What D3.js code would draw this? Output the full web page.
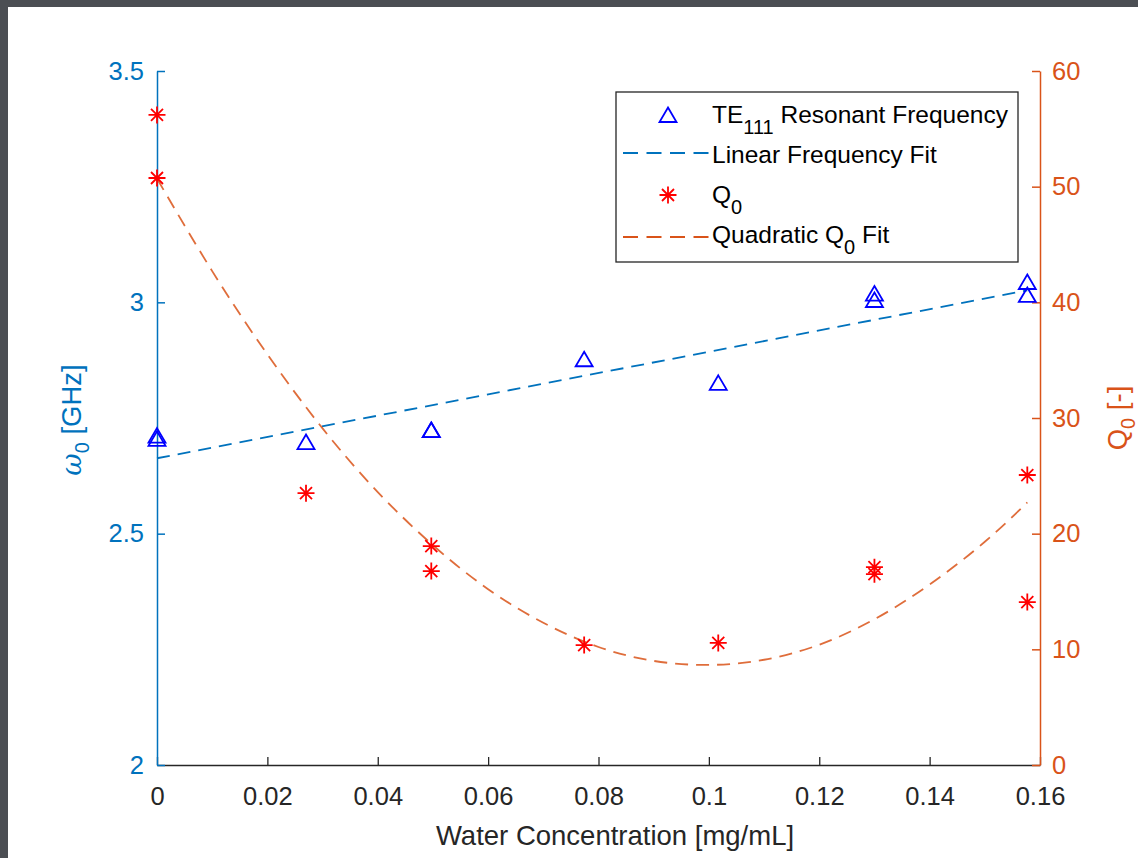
<!DOCTYPE html>
<html>
<head>
<meta charset="utf-8">
<script src="https://cdn.jsdelivr.net/npm/d3@7"></script>
<style>
  body { margin: 0; background: #4b4e53; }
  svg { display: block; font-family: "Liberation Sans", Arial, Helvetica, sans-serif; }
</style>
</head>
<body>
<div id="chart"></div>
<script>
// Data
const concentration = [0, 0, 0.027, 0.0497, 0.0497, 0.0774, 0.1017, 0.13, 0.13, 0.1577, 0.1577];
const frequency = [2.712, 2.705, 2.698, 2.724, 2.724, 2.877, 2.826, 3.019, 3.005, 3.044, 3.016];
const qFactor = [56.2, 50.75, 23.5, 18.93, 16.77, 10.37, 10.55, 17.1, 16.5, 25.07, 14.09];

const linearFitX = [0, 0.1577];
const linearFitY = [2.663, 3.026];

const quadFitX = [0, 0.01, 0.02, 0.03, 0.04, 0.05, 0.06, 0.07, 0.08, 0.09, 0.1, 0.11, 0.12, 0.13, 0.14, 0.15, 0.1577];
const quadFitY = [50.7, 42.7, 35.5, 29.1, 23.6, 19.0, 15.2, 12.3, 10.2, 9.0, 8.65, 9.1, 10.4, 12.6, 15.6, 19.3, 22.7];

const xTicks = [0, 0.02, 0.04, 0.06, 0.08, 0.1, 0.12, 0.14, 0.16];
const leftTicks = [2, 2.5, 3, 3.5];
const rightTicks = [0, 10, 20, 30, 40, 50, 60];

const legendLabels = [
  [{t: "TE"}, {t: "111", sub: true}, {t: " Resonant Frequency"}],
  [{t: "Linear Frequency Fit"}],
  [{t: "Q"}, {t: "0", sub: true}],
  [{t: "Quadratic Q"}, {t: "0", sub: true}, {t: " Fit"}]
];

const margin = {top: 71, right: 98, bottom: 93, left: 157};
const width = 1138;
const height = 858;
const innerWidth = width - margin.left - margin.right;
const innerHeight = height - margin.top - margin.bottom;

const blue = "#0072bd";
const orange = "#d95319";
const axisGray = "#262626";

const svg = d3.select("#chart")
  .append("svg")
    .attr("width", width)
    .attr("height", height);

// screenshot frame
svg.append("rect")
  .attr("width", width).attr("height", height)
  .attr("fill", "#4b4e53");
svg.append("rect")
  .attr("x", 8).attr("y", 7)
  .attr("width", width - 8).attr("height", height - 7)
  .attr("fill", "#ffffff");

const inner = svg.append("g")
  .attr("transform", `translate(${margin.left}, ${margin.top})`);

// Scales
const xScale = d3.scaleLinear().domain([0, 0.16]).range([0, innerWidth]);
const yLeft = d3.scaleLinear().domain([2, 3.5]).range([innerHeight, 0]);
const yRight = d3.scaleLinear().domain([0, 60]).range([innerHeight, 0]);

// Axes
const bottomAxis = d3.axisBottom(xScale)
  .tickValues(xTicks)
  .tickFormat(d3.format("~g"))
  .tickSizeInner(-8)
  .tickSizeOuter(0)
  .tickPadding(22);
const gx = inner.append("g")
  .attr("transform", `translate(0, ${innerHeight})`)
  .call(bottomAxis);
gx.selectAll("path, line").attr("stroke", axisGray).attr("stroke-width", 1.3);
gx.selectAll("text").attr("fill", axisGray).attr("font-size", 25.5);

const leftAxis = d3.axisLeft(yLeft)
  .tickValues(leftTicks)
  .tickFormat(d3.format("~g"))
  .tickSizeInner(-8)
  .tickSizeOuter(0)
  .tickPadding(13);
const gl = inner.append("g").call(leftAxis);
gl.selectAll("path, line").attr("stroke", blue).attr("stroke-width", 1.5);
gl.selectAll("text").attr("fill", blue).attr("font-size", 25.5);

const rightAxis = d3.axisRight(yRight)
  .tickValues(rightTicks)
  .tickSizeInner(-8)
  .tickSizeOuter(0)
  .tickPadding(12);
const gr = inner.append("g")
  .attr("transform", `translate(${innerWidth}, 0)`)
  .call(rightAxis);
gr.selectAll("path, line").attr("stroke", orange).attr("stroke-width", 1.5);
gr.selectAll("text").attr("fill", orange).attr("font-size", 25.5);

// Axis labels
svg.append("text")
  .attr("x", 615)
  .attr("y", 845)
  .attr("text-anchor", "middle")
  .attr("font-size", 27.5)
  .attr("fill", axisGray)
  .text("Water Concentration [mg/mL]");

const leftLabel = svg.append("text")
  .attr("transform", `translate(81, ${margin.top + innerHeight / 2 + 2}) rotate(-90)`)
  .attr("text-anchor", "middle")
  .attr("font-size", 27.5)
  .attr("fill", blue);
leftLabel.append("tspan").attr("font-family", "'DejaVu Serif', serif").attr("font-style", "italic").text("ω");
leftLabel.append("tspan").attr("font-size", 20).attr("dy", 8).text("0");
leftLabel.append("tspan").attr("dy", -8).text(" [GHz]");

const rightLabel = svg.append("text")
  .attr("transform", `translate(1127, ${margin.top + innerHeight / 2}) rotate(-90)`)
  .attr("text-anchor", "middle")
  .attr("font-size", 27.5)
  .attr("fill", orange);
rightLabel.append("tspan").text("Q");
rightLabel.append("tspan").attr("font-size", 20).attr("dy", 8).text("0");
rightLabel.append("tspan").attr("dy", -8).text(" [-]");

// Fit lines
const linearLine = d3.line()
  .x(d => xScale(d[0]))
  .y(d => yLeft(d[1]));
inner.append("path")
  .attr("d", linearLine(d3.zip(linearFitX, linearFitY)))
  .attr("fill", "none")
  .attr("stroke", blue)
  .attr("stroke-width", 1.8)
  .attr("stroke-dasharray", "13,8");

const quadLine = d3.line()
  .x(d => xScale(d[0]))
  .y(d => yRight(d[1]))
  .curve(d3.curveNatural);
inner.append("path")
  .attr("d", quadLine(d3.zip(quadFitX, quadFitY)))
  .attr("fill", "none")
  .attr("stroke", orange)
  .attr("stroke-opacity", 0.85)
  .attr("stroke-width", 1.8)
  .attr("stroke-dasharray", "13,8");

// Markers
const trianglePath = "M0,-7.5L8.5,7L-8.5,7Z";
const starPath = "M-8.5,0H8.5M0,-8.5V8.5M-6,-6L6,6M-6,6L6,-6";

inner.append("g")
  .selectAll("path")
  .data(d3.zip(concentration, frequency))
  .join("path")
    .attr("d", trianglePath)
    .attr("transform", d => `translate(${xScale(d[0])}, ${yLeft(d[1])})`)
    .attr("fill", "none")
    .attr("stroke", "#0000ff")
    .attr("stroke-width", 1.8);

inner.append("g")
  .selectAll("path")
  .data(d3.zip(concentration, qFactor))
  .join("path")
    .attr("d", starPath)
    .attr("transform", d => `translate(${xScale(d[0])}, ${yRight(d[1])})`)
    .attr("fill", "none")
    .attr("stroke", "#ff0000")
    .attr("stroke-width", 1.8);

// Legend
const legend = svg.append("g");
legend.append("rect")
  .attr("x", 616).attr("y", 92)
  .attr("width", 402).attr("height", 170)
  .attr("fill", "#ffffff")
  .attr("stroke", axisGray)
  .attr("stroke-width", 1.3);

const rowY = [115, 155, 195, 235];
legend.append("path")
  .attr("d", trianglePath)
  .attr("transform", `translate(668, ${rowY[0]})`)
  .attr("fill", "none").attr("stroke", "#0000ff").attr("stroke-width", 1.8);
legend.append("line")
  .attr("x1", 623).attr("x2", 709).attr("y1", rowY[1] - 2).attr("y2", rowY[1] - 2)
  .attr("stroke", blue).attr("stroke-width", 1.8).attr("stroke-dasharray", "15,8.5");
legend.append("path")
  .attr("d", starPath)
  .attr("transform", `translate(668, ${rowY[2]})`)
  .attr("fill", "none").attr("stroke", "#ff0000").attr("stroke-width", 1.8);
legend.append("line")
  .attr("x1", 623).attr("x2", 709).attr("y1", rowY[3] + 2).attr("y2", rowY[3] + 2)
  .attr("stroke", orange).attr("stroke-width", 1.8).attr("stroke-dasharray", "15,8.5");

legendLabels.forEach((parts, i) => {
  const t = legend.append("text")
    .attr("x", 712)
    .attr("y", rowY[i] + 8)
    .attr("font-size", 24.5)
    .attr("fill", "#000000");
  let shifted = false;
  parts.forEach(p => {
    const dy = p.sub ? 11 : (shifted ? -11 : 0);
    shifted = !!p.sub;
    t.append("tspan")
      .attr("font-size", p.sub ? 20 : 24.5)
      .attr("dy", dy)
      .text(p.t);
  });
});
</script>
</body>
</html>
